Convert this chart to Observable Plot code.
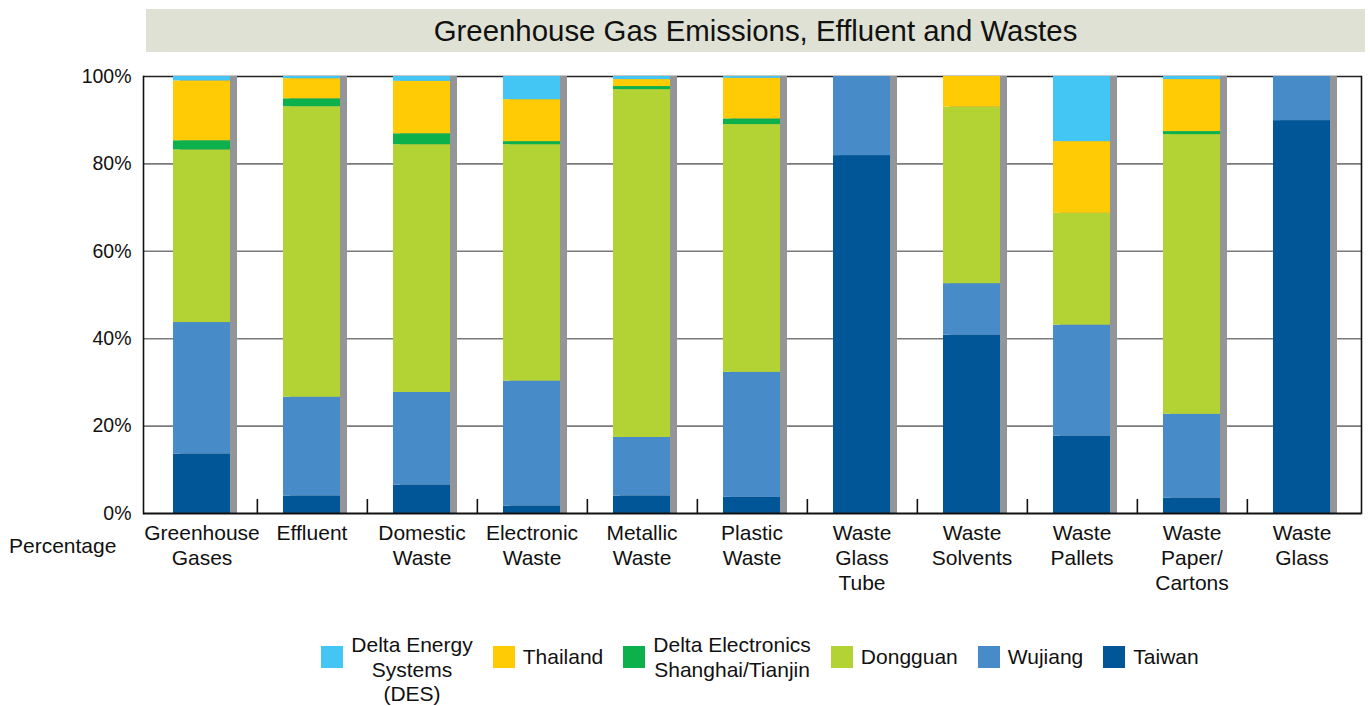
<!DOCTYPE html>
<html>
<head>
<meta charset="utf-8">
<script src="https://cdn.jsdelivr.net/npm/d3@7"></script>
<script src="https://cdn.jsdelivr.net/npm/@observablehq/plot@0.6"></script>
<style>
  body { margin: 0; background: #fff; font-family: "Liberation Sans", Arial, sans-serif; width: 1370px; height: 706px; position: relative; overflow: hidden; }
  #title { position: absolute; left: 146px; top: 9px; width: 1219px; height: 43px; background: #dfe1d4; font-size: 29.4px; color: #111; display: flex; align-items: center; justify-content: center; }
  #chart { position: absolute; left: 0; top: 56px; }
  #ylabel { position: absolute; left: 9px; top: 534px; font-size: 21px; color: #111; }
  #legend { position: absolute; left: 0; top: 633px; width: 1370px; display: flex; justify-content: center; font-size: 21px; color: #111; padding-left: 150px; box-sizing: border-box; }
  .item { display: flex; align-items: flex-start; margin: 0 10px; }
  .sw { width: 22px; height: 22px; margin-top: 13px; margin-right: 8px; flex: none; }
  .lbl { line-height: 24.5px; text-align: center; }
  .one { padding-top: 12px; }
</style>
</head>
<body>
<div id="title">Greenhouse Gas Emissions, Effluent and Wastes</div>
<div id="chart"></div>
<div id="ylabel">Percentage</div>
<div id="legend"></div>
<script>
const categories = ["Greenhouse\nGases", "Effluent", "Domestic\nWaste", "Electronic\nWaste", "Metallic\nWaste", "Plastic\nWaste", "Waste\nGlass\nTube", "Waste\nSolvents", "Waste\nPallets", "Waste\nPaper/\nCartons", "Waste\nGlass"];
const seriesNames = ["Taiwan", "Wujiang", "Dongguan", "Delta Electronics\nShanghai/Tianjin", "Thailand", "Delta Energy\nSystems\n(DES)"];
const seriesColors = ["#005696", "#478cc9", "#b3d335", "#0db14b", "#ffcb05", "#43c6f3"];
const taiwan   = [13.6, 4.0, 6.5, 1.7, 4.0, 3.7, 81.9, 40.8, 17.7, 3.5, 89.9];
const wujiang  = [30.1, 22.6, 21.2, 28.6, 13.4, 28.6, 18.1, 11.8, 25.4, 19.2, 10.1];
const dongguan = [39.5, 66.5, 56.7, 54.1, 79.6, 56.7, 0, 40.4, 25.6, 64.0, 0];
const shanghai = [2.1, 1.8, 2.5, 0.7, 0.7, 1.3, 0, 0, 0, 0.7, 0];
const thailand = [13.7, 4.6, 12.0, 9.6, 1.6, 9.3, 0, 7.0, 16.4, 11.9, 0];
const des      = [1.0, 0.5, 1.1, 5.3, 0.7, 0.4, 0, 0, 14.9, 0.7, 0];
const yTicks = [0, 20, 40, 60, 80, 100];

const seriesValues = [taiwan, wujiang, dongguan, shanghai, thailand, des];
const rows = [];
categories.forEach((c, i) => seriesValues.forEach((vals, s) => {
  rows.push({category: c, series: seriesNames[s], value: vals[i]});
}));
const totals = categories.map((c, i) => ({category: c, total: seriesValues.reduce((a, v) => a + v[i], 0)}));

const W = 1370, H = 560, mL = 143, mR = 9, mT = 20, mB = 103;
const pIn = 0.48, pOut = 0.24;
const step = (W - mL - mR) / (categories.length - pIn + 2 * pOut);

const plot = Plot.plot({
  width: W, height: H,
  marginLeft: mL, marginRight: mR, marginTop: mT, marginBottom: mB,
  style: {fontFamily: "'Liberation Sans', Arial, sans-serif", fontSize: "19px", color: "#111", background: "transparent"},
  x: {domain: categories, paddingInner: pIn, paddingOuter: pOut, label: null},
  y: {domain: [0, 100], label: null},
  color: {domain: seriesNames, range: seriesColors},
  marks: [
    Plot.ruleY(yTicks.filter(d => d > 0 && d < 100), {stroke: "#7a7a7a", strokeWidth: 1.6}),
    Plot.ruleY([100], {stroke: "#222", strokeWidth: 1.6}),
    Plot.barY(totals, {x: "category", y: "total", fill: "#939598", dx: 7}),
    Plot.barY(rows, Plot.stackY({x: "category", y: "value", fill: "series", order: seriesNames})),
    Plot.ruleX(categories.slice(0, -1), {x: d => d, y1: 0, y2: 3.2, stroke: "#111", strokeWidth: 1.6, dx: step / 2}),
    Plot.frame({anchor: "left", stroke: "#111", strokeWidth: 1.6}),
    Plot.frame({anchor: "right", stroke: "#111", strokeWidth: 1.6}),
    Plot.ruleY([0], {stroke: "#111", strokeWidth: 1.8}),
    Plot.axisY(yTicks, {tickSize: 0, tickPadding: 12, tickFormat: d => d + "%", fontSize: 19.5}),
    Plot.axisX({tickSize: 0, tickPadding: 9, lineHeight: 1.19, fontSize: 21})
  ]
});
document.getElementById("chart").appendChild(plot);

const legend = document.getElementById("legend");
const legendOrder = [5, 4, 3, 2, 1, 0];
legendOrder.forEach(i => {
  const item = document.createElement("div");
  item.className = "item";
  const sw = document.createElement("div");
  sw.className = "sw";
  sw.style.background = seriesColors[i];
  const lbl = document.createElement("div");
  const lines = seriesNames[i].split("\n");
  lbl.className = "lbl" + (lines.length === 1 ? " one" : "");
  lbl.innerHTML = lines.join("<br>");
  item.appendChild(sw);
  item.appendChild(lbl);
  legend.appendChild(item);
});
</script>
</body>
</html>
